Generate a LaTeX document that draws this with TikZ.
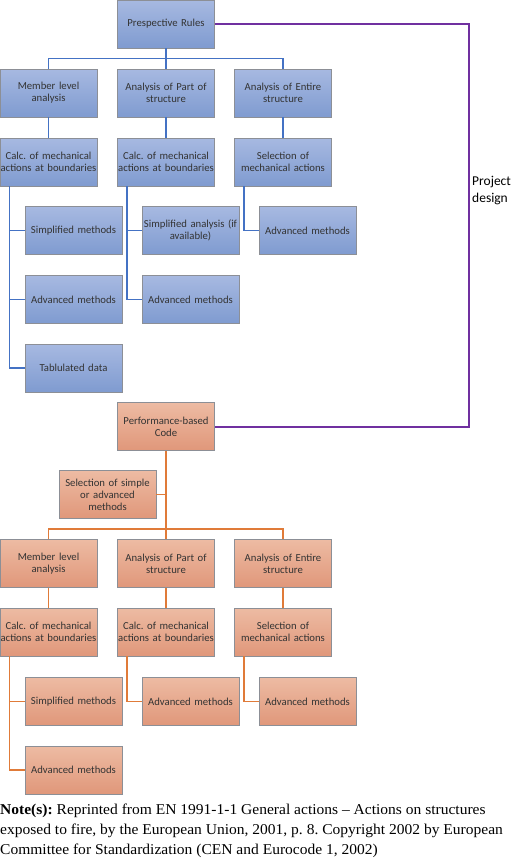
\documentclass[tikz,border=0pt]{standalone}
\usepackage{fontspec}
\setmainfont{Liberation Serif}
\newfontfamily\boxfont{Carlito}
\newfontfamily\notefont[FakeStretch=1.035]{Liberation Serif}
\usetikzlibrary{calc,positioning}
\frenchspacing

\definecolor{bluetop}{HTML}{A7B9E1}
\definecolor{bluebot}{HTML}{7F9BD0}
\definecolor{blueline}{HTML}{4472C4}
\definecolor{orangetop}{HTML}{EDBBA3}
\definecolor{orangebot}{HTML}{E0977A}
\definecolor{orangeline}{HTML}{E07B39}
\definecolor{boxedge}{HTML}{8C8F96}
\definecolor{designline}{HTML}{7030A0}
\definecolor{boxtext}{HTML}{333333}

\tikzset{
  box/.style={draw=boxedge, line width=0.8pt, minimum width=97pt, minimum height=48pt,
    text width=97pt, inner sep=0pt, align=center, text=boxtext,
    font=\boxfont\fontsize{10.7}{12}\selectfont},
  bluebox/.style={box, top color=bluetop, bottom color=bluebot},
  orangebox/.style={box, top color=orangetop, bottom color=orangebot},
  blink/.style={draw=blueline, line width=1.4pt},
  olink/.style={draw=orangeline, line width=1.4pt}
}

\begin{document}
\begin{tikzpicture}[x=1pt,y=-1pt]
  \useasboundingbox (0,0) rectangle (520,862);

  %% Prescriptive branch (blue)
  \node[bluebox] (PR) at (166,24) {Prespective Rules};
  \foreach \n/\x/\t in {a/48.5/{Member level\\analysis},
                        b/166/{Analysis of Part of\\structure},
                        c/283/{Analysis of Entire\\structure}}
  {
    \node[bluebox] (PL\n) at (\x,93) {\t};
  }
  \foreach \n/\x/\t in {a/48.5/{Calc. of mechanical\\actions at boundaries},
                        b/166/{Calc. of mechanical\\actions at boundaries},
                        c/283/{Selection of\\mechanical actions}}
  {
    \node[bluebox] (PC\n) at (\x,162) {\t};
    \draw[blink] (PL\n) -- (PC\n);
  }
  \draw[blink] (PR) -- (PLb);
  \draw[blink] (PLa.north) |- ($(PLb.north)+(0,-10)$) -| (PLc.north);

  \foreach \n/\p/\x/\y/\t in {a1/a/73.5/230.5/{Simplified methods},
                              a2/a/73.5/299.5/{Advanced methods},
                              a3/a/73.5/368/{Tablulated data},
                              b1/b/190.5/230.5/{Simplified analysis (if\\available)},
                              b2/b/190.5/299.5/{Advanced methods},
                              c1/c/307.5/230.5/{Advanced methods}}
  {
    \node[bluebox] (PM\n) at (\x,\y) {\t};
    \draw[blink] ($(PC\p.south west)+(10,0)$) |- (PM\n.west);
  }

  %% Performance-based branch (orange)
  \node[orangebox] (PB) at (166,426.5) {Performance-based\\Code};
  \node[orangebox] (SEL) at (107.5,494.5) {Selection of simple\\or advanced\\methods};
  \foreach \n/\x/\t in {a/48.5/{Member level\\analysis},
                        b/166/{Analysis of Part of\\structure},
                        c/283/{Analysis of Entire\\structure}}
  {
    \node[orangebox] (BL\n) at (\x,563.5) {\t};
  }
  \foreach \n/\x/\t in {a/48.5/{Calc. of mechanical\\actions at boundaries},
                        b/166/{Calc. of mechanical\\actions at boundaries},
                        c/283/{Selection of\\mechanical actions}}
  {
    \node[orangebox] (BC\n) at (\x,632) {\t};
    \draw[olink] (BL\n) -- (BC\n);
  }
  \draw[olink] (PB) -- (BLb);
  \draw[olink] (SEL.east) -- (SEL.east -| PB.south);
  \draw[olink] (BLa.north) |- ($(BLb.north)+(0,-10)$) -| (BLc.north);

  \foreach \n/\p/\x/\y/\t in {a1/a/73.5/701.5/{Simplified methods},
                              a2/a/73.5/770/{Advanced methods},
                              b1/b/190.5/701.5/{Advanced methods},
                              c1/c/307.5/701.5/{Advanced methods}}
  {
    \node[orangebox] (BM\n) at (\x,\y) {\t};
    \draw[olink] ($(BC\p.south west)+(10,0)$) |- (BM\n.west);
  }

  %% Project design link
  \coordinate (PD) at (469,24);
  \draw[designline, line width=2pt] (PR.east) -- (PD) |- (PB.east);
  \node[anchor=west, align=left, inner sep=0pt, text=black,
        font=\boxfont\fontsize{13.5}{17}\selectfont] (PDL) at (472,191) {Project\\design};

  %% Source note
  \node[anchor=north west, align=left, inner sep=0pt,
        font=\notefont\fontsize{15}{20}\selectfont] (NOTE) at (0,804)
  {\textbf{Note(s):} Reprinted from EN 1991-1-1 General actions – Actions on structures\\
   exposed to fire, by the European Union, 2001, p.~8. Copyright 2002 by European\\
   Committee for Standardization (CEN and Eurocode 1, 2002)};
\end{tikzpicture}
\end{document}
